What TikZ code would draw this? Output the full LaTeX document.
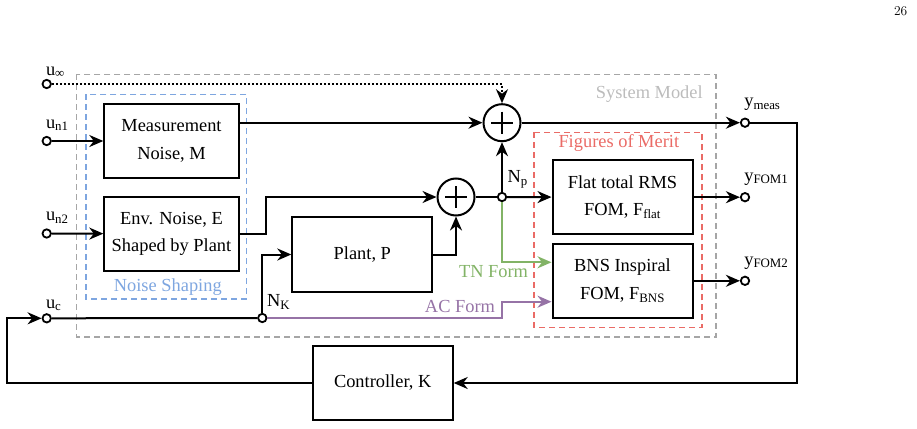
\documentclass[tikz,border=0pt]{standalone}
\usepackage{fontspec}
\setmainfont{Liberation Serif}
\newfontfamily\pagefont{Latin Modern Roman}
\usepackage{tikz}
\usetikzlibrary{arrows.meta}
\definecolor{smgray}{HTML}{A6A6A6}
\definecolor{nsblue}{HTML}{7EA6E0}
\definecolor{fomred}{HTML}{EA6B66}
\definecolor{tngreen}{HTML}{82B366}
\definecolor{acpurple}{HTML}{9673A6}

\begin{document}
\begin{tikzpicture}[x=1pt, y=-1pt,
  font=\fontsize{18.4}{27.7}\selectfont,
  line width=2pt,
  box/.style={draw, align=center, minimum width=134.4pt, minimum height=74.4pt, inner sep=0pt},
  wbox/.style={box, minimum width=140pt},
  sumnode/.style={draw, circle, minimum size=37pt, inner sep=0pt},
  port/.style={draw, circle, fill=white, minimum size=8.4pt, inner sep=0pt, line width=1.8pt},
  lbl/.style={inner sep=0pt, anchor=base west},
  tag/.style={inner sep=0pt},
  arr/.style={-{Stealth[length=14pt, width=12pt, inset=4.5pt]}},
  frame/.style={dash pattern=on 6pt off 4pt, line width=1.6pt},
  dots/.style={dash pattern=on 2pt off 2pt}]
\useasboundingbox (0,0) rectangle (917,428);
\draw[frame, smgray] (76.5,74.3) rectangle (716,336.7);
\draw[frame, nsblue] (86,94.3) rectangle (246.5,299);
\draw[frame, fomred] (534,132.3) rectangle (702,327.3);
\node[box] (meas) at (171.5,141) {Measurement\\Noise, M};
\node[box] (env) at (171.5,233.8) {Env. Noise, E\\Shaped by Plant};
\node[wbox] (plant) at (362.3,254.5) {Plant, P};
\node[wbox] (flat) at (622.5,197.2) {Flat total RMS\\FOM, F\textsubscript{flat}};
\node[wbox] (bns) at (622.5,280.8) {BNS Inspiral\\FOM, F\textsubscript{BNS}};
\node[wbox] (ctrl) at (382.7,383) {Controller, K};
\node[sumnode] (s1) at (502,122.7) {};
\node[sumnode] (s2) at (456,197) {};
\node[port] (np) at (502,197) {};
\node[port] (nk) at (262.3,318) {};
\node[port] (uinf) at (46.7,84) {};
\node[port] (un1) at (46.7,141) {};
\node[port] (un2) at (46.7,233.5) {};
\node[port] (uc) at (46.7,318.3) {};
\node[port] (ymeas) at (745,122.7) {};
\node[port] (yfom1) at (745,197.2) {};
\node[port] (yfom2) at (745,280.8) {};
\foreach \s in {s1,s2}
  \draw (\s.center) ++(-11,0) -- ++(22,0) (\s.center) ++(0,-11) -- ++(0,22);
\node[lbl] (uinflbl) at (45,75) {u\textsubscript{∞}};
\node[lbl] (un1lbl) at (45,128.3) {u\textsubscript{n1}};
\node[lbl] (un2lbl) at (45,220.5) {u\textsubscript{n2}};
\node[lbl] (uclbl) at (45,308.3) {u\textsubscript{c}};
\node[lbl] (ymeaslbl) at (743.3,106.7) {y\textsubscript{meas}};
\node[lbl] (yfom1lbl) at (743.3,181.3) {y\textsubscript{FOM1}};
\node[lbl] (yfom2lbl) at (743.3,265) {y\textsubscript{FOM2}};
\node[lbl] (nplbl) at (506.7,182.7) {N\textsubscript{p}};
\node[lbl] (nklbl) at (266,306.7) {N\textsubscript{K}};
\node[tag, text=smgray!75] (smlbl) at (649.3,94) {System Model};
\node[tag, text=nsblue] (nslbl) at (167.8,286.7) {Noise Shaping};
\node[tag, text=fomred] (fomlbl) at (618.8,143.3) {Figures of Merit};
\node[tag, text=tngreen, anchor=east] (tnlbl) at (529,271.7) {TN Form};
\node[tag, text=acpurple, anchor=east] (aclbl) at (496,306.7) {AC Form};
\node[anchor=base east, inner sep=0pt, font=\pagefont\fontsize{13.5}{16}\selectfont] (pagenum) at (908.3,15.5) {26};
\draw[arr, dots] (uinf) -| (s1.north);
\draw[arr] (un1) -- (meas);
\draw[arr] (un2) -- (env);
\draw[arr] (meas.east |- s1) -- (s1);
\draw[arr] (env.east) -- ++(26.3,0) |- (s2);
\draw[arr] (plant) -| (s2);
\draw (s2) -- (np);
\draw[arr] (np) -- (flat);
\draw[arr] (np) -- (s1);
\draw[arr] (s1) -- (ymeas);
\draw[arr] (flat) -- (yfom1);
\draw[arr] (bns) -- (yfom2);
\draw[arr, tngreen] (np) |- ([yshift=18.5pt]bns.west);
\draw[arr, acpurple] (nk) -- (nk -| np) |- ([yshift=-20.9pt]bns.west);
\draw (uc) -- (nk);
\draw[arr] (nk) |- (plant);
\draw[arr] (ymeas) -- ++(51.7,0) |- (ctrl);
\draw[arr] (ctrl) -- ++(-375.4,0) |- (uc);
\end{tikzpicture}
\end{document}
